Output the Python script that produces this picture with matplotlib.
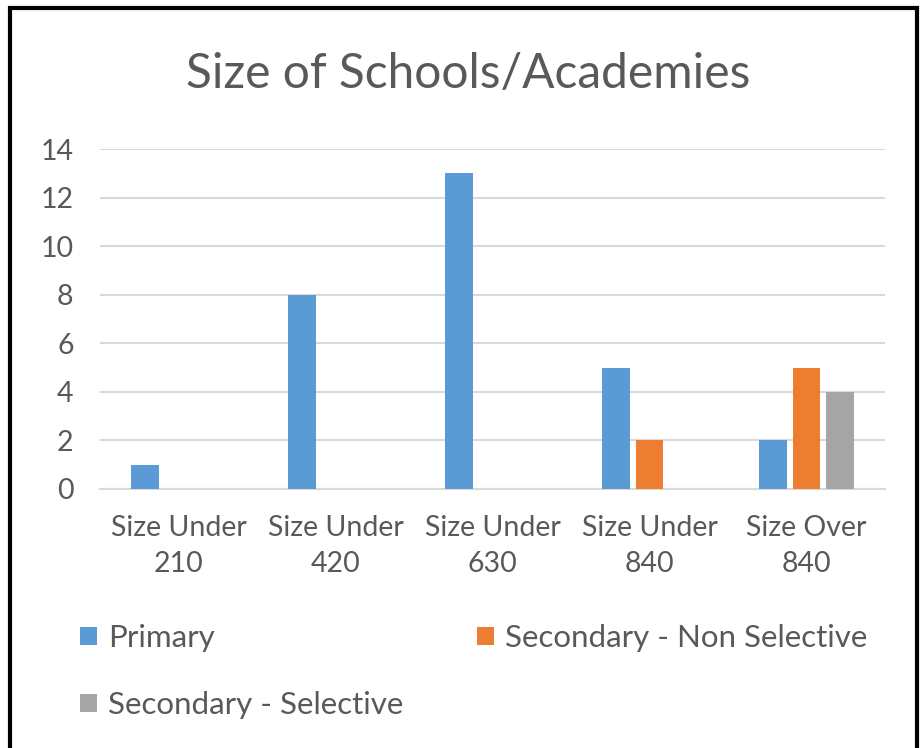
import matplotlib
matplotlib.use("Agg")
import matplotlib.pyplot as plt
from matplotlib.patches import Rectangle
import numpy as np

categories = ["Size Under\n210", "Size Under\n420", "Size Under\n630", "Size Under\n840", "Size Over\n840"]
primary = [1, 8, 13, 5, 2]
secondary_non_selective = [0, 0, 0, 2, 5]
secondary_selective = [0, 0, 0, 0, 4]
yticks = [0, 2, 4, 6, 8, 10, 12, 14]

plt.rcParams["font.family"] = ["Lato", "DejaVu Sans"]
text_color = "#595959"
grid_color = "#D9D9D9"

W, H = 921, 748
fig = plt.figure(figsize=(W / 100, H / 100), dpi=100)
ax = fig.add_axes([100 / W, 1 - 489 / H, 785 / W, 340 / H])

x = np.arange(len(categories))
bw = 0.178
step = 0.213
b1 = ax.bar(x - step, primary, bw, color="#5B9BD5", label="Primary", zorder=3)
b2 = ax.bar(x, secondary_non_selective, bw, color="#ED7D31", label="Secondary - Non Selective", zorder=3)
b3 = ax.bar(x + step, secondary_selective, bw, color="#A5A5A5", label="Secondary - Selective", zorder=3)

ax.set_xlim(-0.5, len(categories) - 0.5)
ax.set_ylim(0, 14)
ax.set_yticks(yticks)
ax.set_xticks(x)
ax.set_xticklabels(categories, fontsize=20.5, color=text_color, linespacing=1.45)
ax.tick_params(axis="y", labelsize=20.5, labelcolor=text_color, length=0, pad=19)
ax.tick_params(axis="x", length=0, pad=19)
ax.yaxis.grid(True, color=grid_color, linewidth=1.5, zorder=0)
for side in ["left", "right", "top"]:
    ax.spines[side].set_visible(False)
ax.spines["bottom"].set_color(grid_color)
ax.spines["bottom"].set_linewidth(1.5)

fig.text(468 / W, 1 - 74 / H, "Size of Schools/Academies", ha="center", va="center",
         fontsize=34.5, color=text_color)

fig.legend([b1, b3, b2],
           ["Primary", "Secondary - Selective", "Secondary - Non Selective"],
           ncol=2, loc="upper left", bbox_to_anchor=(80 / W, 1 - 624 / H),
           frameon=False, fontsize=22.5, labelcolor=text_color,
           handlelength=0.55, handleheight=0.55, handletextpad=0.35,
           columnspacing=2.35, labelspacing=1.25, borderaxespad=0, borderpad=0)

fig.patches.append(Rectangle((10 / W, -0.1), 907 / W, 1.1 - 8 / H, transform=fig.transFigure,
                             fill=False, edgecolor="black", linewidth=3))

fig.savefig("out.png", dpi=100, facecolor="white")
